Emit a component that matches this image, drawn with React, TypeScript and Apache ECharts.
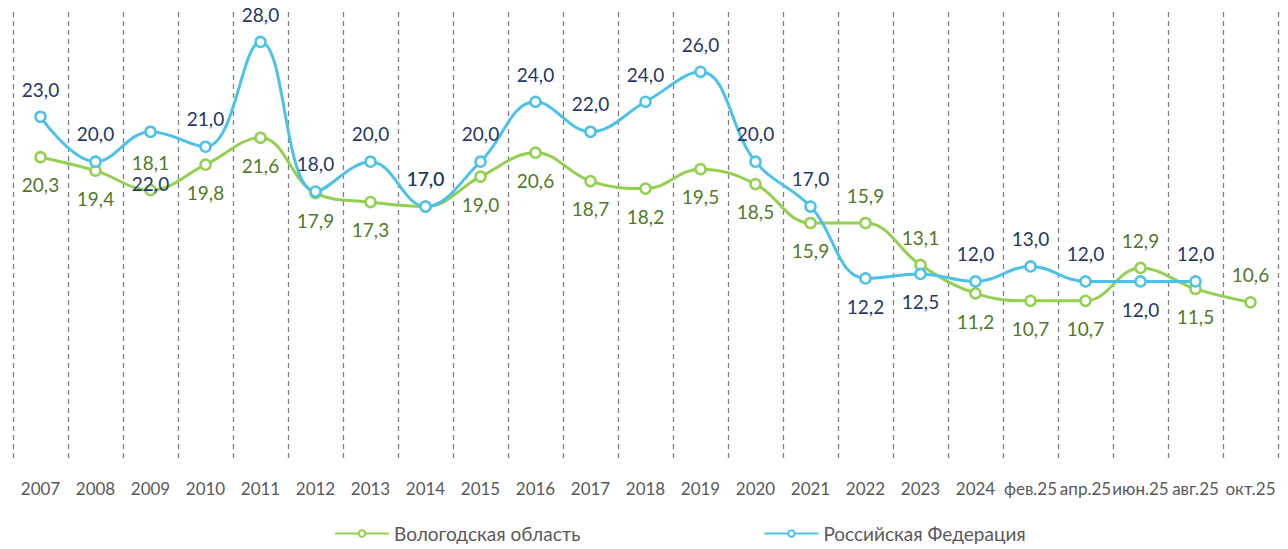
import React, { useEffect, useRef } from "react";
import * as echarts from "echarts";

const categories = [
  "2007", "2008", "2009", "2010", "2011", "2012", "2013", "2014", "2015", "2016",
  "2017", "2018", "2019", "2020", "2021", "2022", "2023", "2024",
  "фев.25", "апр.25", "июн.25", "авг.25", "окт.25",
];

const vologdaValues = [
  20.3, 19.4, 18.1, 19.8, 21.6, 17.9, 17.3, 17.0, 19.0, 20.6,
  18.7, 18.2, 19.5, 18.5, 15.9, 15.9, 13.1, 11.2,
  10.7, 10.7, 12.9, 11.5, 10.6,
];
// label placement: "t" above, "b" below
const vologdaLabelPos = [
  "b", "b", "t", "b", "b", "b", "b", "t", "b", "b",
  "b", "b", "b", "b", "b", "t", "t", "b",
  "b", "b", "t", "b", "t",
];

const russiaValues: (number | null)[] = [
  23.0, 20.0, 22.0, 21.0, 28.0, 18.0, 20.0, 17.0, 20.0, 24.0,
  22.0, 24.0, 26.0, 20.0, 17.0, 12.2, 12.5, 12.0,
  13.0, 12.0, 12.0, 12.0, null,
];
const russiaLabelPos = [
  "t", "t", "b", "t", "t", "t", "t", "t", "t", "t",
  "t", "t", "t", "t", "t", "b", "b", "t",
  "t", "t", "b", "t", "t",
];
// extra vertical shift (px) of single labels, as placed in the original
const russiaLabelShift = [
  0, 0, 24, 0, 0, 0, 0, 0, 0, 0,
  0, 0, 0, 0, 0, 0, 0, 0,
  0, 0, 0, 0, 0,
];

const seriesNames = ["Вологодская область", "Российская Федерация"];

const GREEN = "#92D050";
const GREEN_LABEL = "#4F7A28";
const BLUE = "#4CC2EA";
const BLUE_LABEL = "#1F3864";
const FONT = "Lato";

function buildData(values: (number | null)[], pos: string[], shift?: number[]) {
  return values.map((v, i) => ({
    value: v,
    label: {
      position: pos[i] === "t" ? "top" : "bottom",
      offset: [0, shift ? shift[i] : 0],
    },
  }));
}

export default function App() {
  const ref = useRef<HTMLDivElement>(null);
  useEffect(() => {
    if (!ref.current) return;
    const chart = echarts.init(ref.current, undefined, { renderer: "svg" });
    const fmt = (p: any) =>
      p.value == null ? "" : Number(p.value).toFixed(1).replace(".", ",");
    chart.setOption({
      animation: false,
      backgroundColor: "#ffffff",
      textStyle: { fontFamily: FONT },
      grid: { left: 13, right: 10, top: 12, bottom: 88, containLabel: false },
      legend: {
        top: 524,
        left: 334,
        padding: 0,
        itemWidth: 54,
        itemHeight: 8,
        itemGap: 183,
        textStyle: { fontFamily: FONT, fontSize: 19, color: "#595959" },
        data: seriesNames,
      },
      xAxis: {
        type: "category",
        data: categories,
        boundaryGap: true,
        axisLine: { show: false },
        axisTick: { show: false },
        axisLabel: {
          interval: 0,
          fontFamily: FONT,
          fontSize: 17,
          color: "#595959",
          margin: 19,
        },
        splitLine: {
          show: true,
          interval: 0,
          lineStyle: { color: "#7F7F7F", type: [5, 4], width: 1.3 },
        },
      },
      yAxis: {
        type: "value",
        min: 0,
        max: 30,
        show: false,
        splitLine: { show: false },
      },
      series: [
        {
          name: seriesNames[0],
          type: "line",
          smooth: 0.4,
          data: buildData(vologdaValues, vologdaLabelPos),
          symbol: "circle",
          symbolSize: 10,
          itemStyle: { color: "#ffffff", borderColor: GREEN, borderWidth: 2.5 },
          lineStyle: { color: GREEN, width: 3 },
          label: {
            show: true,
            formatter: fmt,
            fontFamily: FONT,
            fontSize: 19,
            color: GREEN_LABEL,
            distance: 12,
          },
          z: 2,
        },
        {
          name: seriesNames[1],
          type: "line",
          smooth: 0.4,
          data: buildData(russiaValues, russiaLabelPos, russiaLabelShift),
          symbol: "circle",
          symbolSize: 10,
          itemStyle: { color: "#ffffff", borderColor: BLUE, borderWidth: 2.5 },
          lineStyle: { color: BLUE, width: 3 },
          label: {
            show: true,
            formatter: fmt,
            fontFamily: FONT,
            fontSize: 19,
            color: BLUE_LABEL,
            distance: 12,
          },
          z: 3,
        },
      ],
    });
    return () => chart.dispose();
  }, []);
  return (
    <div
      ref={ref}
      style={{ position: "fixed", left: 0, top: 0, width: 1288, height: 549 }}
    />
  );
}
